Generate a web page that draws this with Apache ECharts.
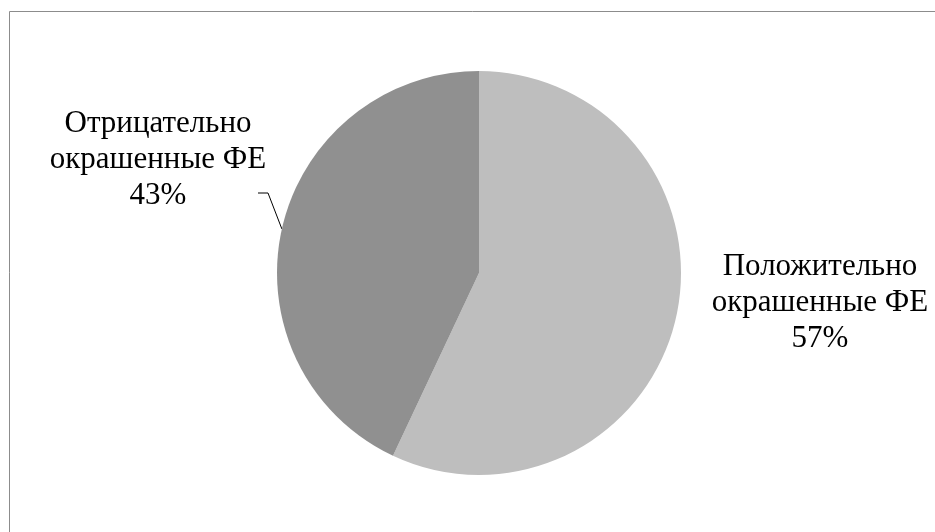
<!DOCTYPE html>
<html>
<head>
<meta charset="utf-8">
<script src="https://cdn.jsdelivr.net/npm/echarts@6/dist/echarts.min.js"></script>
<style>
  html, body { margin: 0; padding: 0; background: #fff; }
  #chart { width: 935px; height: 532px; }
</style>
</head>
<body>
<div id="chart"></div>
<script>
// данные диаграммы
var categories = ['Положительно\nокрашенные ФЕ', 'Отрицательно\nокрашенные ФЕ'];
var values = [57, 43];
var sliceColors = ['#bebebe', '#909090'];

var myChart = echarts.init(document.getElementById('chart'));

var option = {
  backgroundColor: '#ffffff',
  animation: false,
  // рамка области диаграммы (видны только верх и левый край)
  graphic: [{
    type: 'rect',
    shape: { x: 9.5, y: 11.5, width: 1000, height: 1000 },
    style: { fill: 'none', stroke: '#8c8c8c', lineWidth: 1 },
    silent: true
  }],
  series: [{
    type: 'pie',
    center: [479, 273],
    radius: 202,
    startAngle: 90,
    clockwise: true,
    itemStyle: { borderWidth: 0 },
    label: {
      show: true,
      position: 'outside',
      alignTo: 'none',
      overflow: 'none',
      width: 300,
      formatter: '{b}\n{d}%',
      fontFamily: '"Liberation Serif", "Times New Roman", serif',
      fontSize: 31,
      lineHeight: 36,
      color: '#000',
      align: 'center'
    },
    labelLine: {
      show: true,
      lineStyle: { color: '#000', width: 1 }
    },
    labelLayout: function (params) {
      if (params.dataIndex === 1) {
        var lx = 158, ly = 160;
        var p0 = params.labelLinePoints ? params.labelLinePoints[0] : [282, 231];
        return {
          x: lx, y: ly, align: 'center', verticalAlign: 'middle',
          labelLinePoints: [p0, [lx + 110, ly + 33], [lx + 100, ly + 33]]
        };
      }
      return { x: 820, y: 303, align: 'center', verticalAlign: 'middle' };
    },
    data: categories.map(function (name, i) {
      return {
        name: name,
        value: values[i],
        itemStyle: { color: sliceColors[i] },
        labelLine: { show: i === 1 }
      };
    })
  }]
};

myChart.setOption(option);
</script>
</body>
</html>
